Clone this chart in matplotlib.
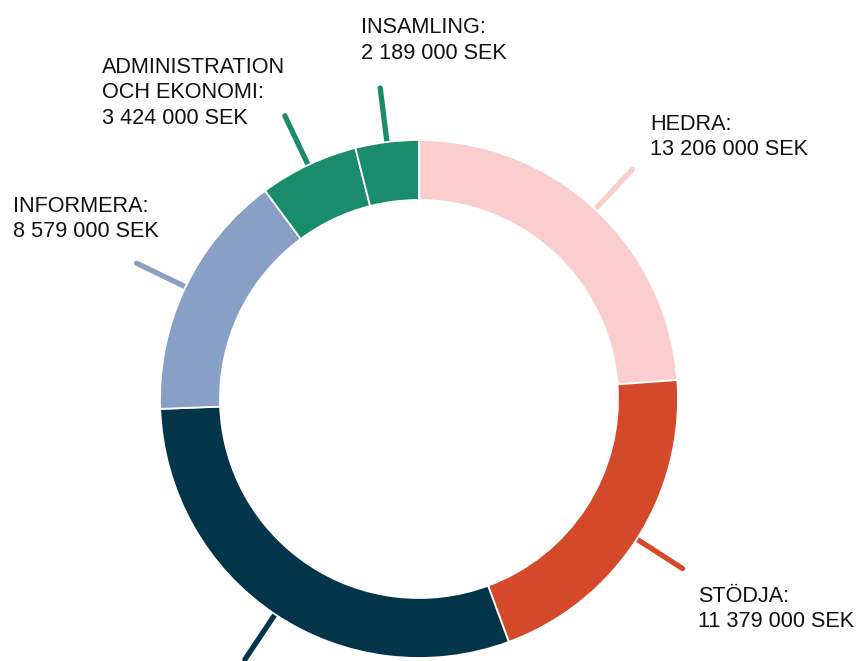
import matplotlib
matplotlib.use("Agg")
import matplotlib.pyplot as plt
import numpy as np

# ---- data ----
categories = ["HEDRA", "STÖDJA", "", "INFORMERA", "ADMINISTRATION\nOCH EKONOMI", "INSAMLING"]
values = [13206000, 11379000, 16640000, 8579000, 3424000, 2189000]
colors = ["#F9CECC", "#D4492A", "#02354A", "#88A0C5", "#1A8C6C", "#1A8C6C"]

def fmt(v):
    return f"{v:,}".replace(",", " ") + " SEK"

# ---- layout (pixels) ----
W, H = 860, 661
cx, cy, R = 419, 399, 259          # centre and outer radius in px
ring = 60 / 259
# first-line baseline anchor for each label (left x, baseline y) in px
label_pos = [(650, 130), (698, 601.7), None, (12.7, 211.7), (101.7, 72.7), (360.7, 33.3)]
line_step = 25.4

fig = plt.figure(figsize=(W / 100, H / 100), dpi=100)
ax = fig.add_axes([0, 0, 1, 1])
wedges, _ = ax.pie(values, colors=colors, startangle=90, counterclock=False,
                   radius=1.0,
                   wedgeprops=dict(width=ring, edgecolor="white", linewidth=1.3))
for w in wedges:
    w.set_zorder(3)

for w, col in zip(wedges, colors):
    mid = np.deg2rad((w.theta1 + w.theta2) / 2)
    r0, r1 = 0.95, 1.21
    ax.plot([r0 * np.cos(mid), r1 * np.cos(mid)], [r0 * np.sin(mid), r1 * np.sin(mid)],
            color=col, lw=3.8, solid_capstyle="round", zorder=1)

ax.set_xlim(-cx / R, (W - cx) / R)
ax.set_ylim(-(H - cy) / R, cy / R)
ax.set_aspect("equal", adjustable="box")
ax.axis("off")

font = dict(family=["Liberation Sans", "DejaVu Sans"], fontsize=15.6, color="#111111")
for cat, v, pos in zip(categories, values, label_pos):
    if pos is None:
        continue
    lines = (cat + ":").split("\n") + [fmt(v)]
    x, y = pos
    for i, ln in enumerate(lines):
        fig.text(x / W, 1 - (y + i * line_step) / H, ln, ha="left", va="baseline", **font)

fig.savefig("out.png", dpi=100)
